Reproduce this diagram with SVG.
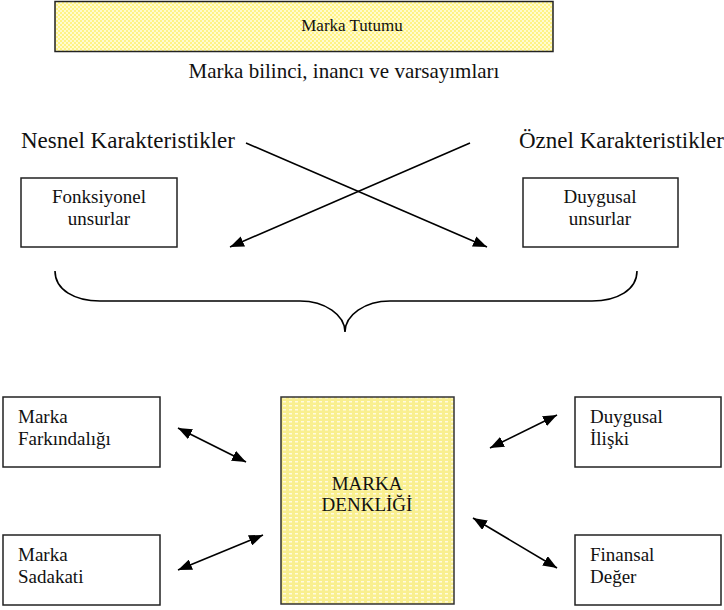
<svg xmlns="http://www.w3.org/2000/svg" width="724" height="610" viewBox="0 0 724 610">
<style>
text{font-family:'Liberation Serif','DejaVu Serif',serif;fill:#111;}
.box{fill:#fff;stroke:#222;stroke-width:1.5;}
.c{stroke:#000;stroke-width:1.6;fill:none;}
.mid{text-anchor:middle;}
</style>
<defs>
<pattern id="chk" width="4" height="4" patternUnits="userSpaceOnUse">
<rect width="4" height="4" fill="#fffbd0"/>
<rect width="2" height="2" fill="#fff385"/>
<rect x="2" y="2" width="2" height="2" fill="#fff385"/>
</pattern>
<pattern id="dash" width="6" height="4" patternUnits="userSpaceOnUse">
<rect width="6" height="4" fill="#f9ef8f"/>
<rect x="1" y="1" width="3" height="1.5" fill="#fffbe0"/>
</pattern>
<marker id="ah" viewBox="0 0 14 11" refX="14" refY="5.5" markerWidth="14" markerHeight="11" markerUnits="userSpaceOnUse" orient="auto-start-reverse">
<path d="M0,0 L14,5.5 L0,11 z" fill="#000"/>
</marker>
</defs>

<g id="marka-tutumu">
<rect x="55" y="1.5" width="498" height="50" fill="url(#chk)" stroke="#222" stroke-width="1.5"/>
<text x="352" y="31" class="mid" font-size="17" font-family="Liberation Serif, serif">Marka Tutumu</text>
</g>

<g id="baslik">
<text x="344" y="78" class="mid" font-size="21" font-family="Liberation Serif, serif">Marka bilinci, inancı ve varsayımları</text>
</g>

<g id="nesnel">
<text x="21" y="148" font-size="23" font-family="Liberation Serif, serif">Nesnel Karakteristikler</text>
</g>
<g id="oznel">
<text x="519" y="148" font-size="23" font-family="Liberation Serif, serif">Öznel Karakteristikler</text>
</g>

<g id="fonksiyonel">
<rect class="box" x="21" y="178" width="156" height="69"/>
<text x="99" y="203" class="mid" font-size="19" font-family="Liberation Serif, serif">Fonksiyonel</text>
<text x="99" y="225" class="mid" font-size="19" font-family="Liberation Serif, serif">unsurlar</text>
</g>

<g id="duygusal-unsurlar">
<rect class="box" x="523" y="178" width="155" height="69"/>
<text x="600" y="203" class="mid" font-size="19" font-family="Liberation Serif, serif">Duygusal</text>
<text x="600" y="225" class="mid" font-size="19" font-family="Liberation Serif, serif">unsurlar</text>
</g>

<g id="brace">
<path class="c" d="M55,271 C55,290 75,301 100,301 L300,301 C325,301 345,315 345,332 C345,315 365,301 390,301 L592,301 C617,301 637,290 637,271"/>
</g>

<g id="marka-denkligi">
<rect x="281" y="397" width="173" height="207" fill="url(#dash)" stroke="#333" stroke-width="1.5"/>
<text x="367" y="490" class="mid" font-size="19" font-family="Liberation Serif, serif">MARKA</text>
<text x="367" y="511" class="mid" font-size="19" font-family="Liberation Serif, serif">DENKLİĞİ</text>
</g>

<g id="marka-farkindaligi">
<rect class="box" x="3" y="397" width="157" height="70"/>
<text x="18" y="423" font-size="19" font-family="Liberation Serif, serif">Marka</text>
<text x="18" y="445" font-size="19" font-family="Liberation Serif, serif">Farkındalığı</text>
</g>

<g id="marka-sadakati">
<rect class="box" x="3" y="535" width="157" height="70"/>
<text x="18" y="561" font-size="19" font-family="Liberation Serif, serif">Marka</text>
<text x="18" y="583" font-size="19" font-family="Liberation Serif, serif">Sadakati</text>
</g>

<g id="duygusal-iliski">
<rect class="box" x="575" y="397" width="146" height="70"/>
<text x="590" y="423" font-size="19" font-family="Liberation Serif, serif">Duygusal</text>
<text x="590" y="445" font-size="19" font-family="Liberation Serif, serif">İlişki</text>
</g>

<g id="finansal-deger">
<rect class="box" x="575" y="535" width="146" height="70"/>
<text x="590" y="561" font-size="19" font-family="Liberation Serif, serif">Finansal</text>
<text x="590" y="583" font-size="19" font-family="Liberation Serif, serif">Değer</text>
</g>

<g id="connectors">
<line class="c" x1="246" y1="143" x2="487" y2="247" marker-end="url(#ah)"/>
<line class="c" x1="470" y1="143" x2="230" y2="247" marker-end="url(#ah)"/>
<line class="c" x1="178" y1="428" x2="246" y2="462" marker-start="url(#ah)" marker-end="url(#ah)"/>
<line class="c" x1="178" y1="570" x2="263" y2="535" marker-start="url(#ah)" marker-end="url(#ah)"/>
<line class="c" x1="490" y1="448" x2="557" y2="415" marker-start="url(#ah)" marker-end="url(#ah)"/>
<line class="c" x1="473" y1="518" x2="557" y2="568" marker-start="url(#ah)" marker-end="url(#ah)"/>
</g>
</svg>
